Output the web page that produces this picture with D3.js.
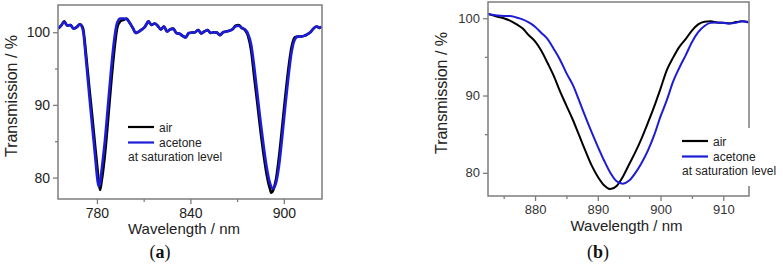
<!DOCTYPE html>
<html>
<head>
<meta charset="utf-8">
<script src="https://cdn.jsdelivr.net/npm/d3@7"></script>
<style>
  body { margin: 0; background: #fff; }
  svg { display: block; font-family: "Liberation Sans", Arial, sans-serif; }
</style>
</head>
<body>
<div id="canvas"></div>
<script>
"use strict";

// Data, panel (a): full spectrum
let wavelengthA = [755, 757, 759, 761, 763, 765, 767, 769, 771, 773, 775, 777, 779, 780, 781, 782, 783, 785, 787, 789,
    791, 793, 795, 797, 799, 801, 803, 805, 807, 809, 811, 813, 815, 817, 819, 821, 823, 825, 827, 829,
    831, 833, 835, 837, 839, 841, 843, 845, 847, 849, 851, 853, 855, 857, 859, 861, 863, 865, 867, 869,
    871, 873, 875, 877, 879, 881, 883, 885, 887, 889, 891, 892, 893, 895, 897, 899, 901, 903, 905, 907,
    909, 911, 913, 915, 917, 919, 921, 923, 924];
let airA = [100.5, 100.9, 101.5, 100.9, 101.0, 100.5, 100.7, 101.1, 100.6, 97.0, 92.6, 88.4, 84.0, 81.9, 79.8, 78.3, 79.5, 82.9, 87.6, 92.7,
    97.2, 100.6, 101.5, 101.7, 101.9, 101.3, 100.6, 99.9, 100.1, 100.4, 100.8, 101.5, 101.0, 101.2, 100.9, 100.4, 100.8, 100.1, 100.4, 100.5,
    99.9, 99.8, 99.5, 99.3, 99.9, 99.95, 100.0, 100.3, 99.85, 100.1, 100.3, 99.9, 100.0, 99.95, 99.6, 100.0, 100.1, 100.2, 100.4, 100.9,
    101.0, 100.6, 100.3, 99.5, 97.5, 93.8, 90.2, 86.5, 83.2, 80.4, 78.5, 77.9, 78.2, 79.8, 83.0, 87.1, 91.3, 95.1, 98.0, 99.3,
    99.4, 99.4, 99.5, 99.7, 100.0, 100.5, 100.8, 100.6, 100.8];
let acetoneA = [100.5, 100.9, 101.4, 100.9, 101.0, 100.5, 100.7, 101.1, 100.3, 96.2, 91.5, 87.0, 82.6, 80.3, 78.8, 79.2, 81.0, 84.8, 89.7, 94.6,
    98.8, 101.3, 101.9, 101.9, 101.8, 101.3, 100.6, 99.9, 100.1, 100.4, 100.8, 101.5, 101.0, 101.2, 100.9, 100.4, 100.8, 100.1, 100.4, 100.5,
    99.9, 99.8, 99.5, 99.3, 99.9, 99.95, 100.0, 100.3, 99.85, 100.1, 100.3, 99.9, 100.0, 99.95, 99.6, 100.0, 100.1, 100.2, 100.4, 100.8,
    100.9, 100.6, 100.4, 99.8, 98.3, 95.2, 91.5, 87.8, 84.4, 81.4, 79.3, 78.7, 78.5, 79.3, 81.8, 85.7, 90.0, 94.0, 97.3, 99.0,
    99.4, 99.4, 99.5, 99.7, 100.0, 100.5, 100.8, 100.6, 100.8];

// Data, panel (b): zoom on the second dip
let wavelengthB = [872.5, 874, 875, 876, 877, 878, 879, 880, 881, 882, 883, 884, 885, 886, 887, 888, 889, 890, 891, 892,
    893, 894, 895, 896, 897, 898, 899, 900, 901, 902, 903, 904, 905, 906, 907, 908, 909, 910, 911, 912, 913, 914];
let airB = [100.55, 100.2, 100.0, 99.7, 99.25, 98.7, 97.8, 97.0, 95.8, 94.2, 92.5, 90.5, 88.7, 86.9, 84.9, 82.9, 81.0, 79.5, 78.4, 77.9,
    78.3, 79.5, 81.1, 82.7, 84.5, 86.5, 88.6, 90.9, 93.3, 94.9, 96.3, 97.3, 98.4, 99.2, 99.55, 99.6, 99.45, 99.4, 99.35, 99.5, 99.6, 99.5];
let acetoneB = [100.55, 100.35, 100.3, 100.3, 100.1, 99.85, 99.45, 98.9, 98.1, 97.3, 96.0, 94.6, 92.9, 91.4, 89.4, 87.3, 85.3, 83.4, 81.6, 80.0,
    78.9, 78.6, 79.0, 80.0, 81.3, 82.9, 84.9, 87.3, 89.4, 91.8, 93.6, 95.2, 96.9, 98.2, 99.0, 99.4, 99.45, 99.4, 99.3, 99.4, 99.6, 99.45];

let xTicksA = [780, 840, 900];
let xMinorA = [810, 870];
let xTicksB = [880, 890, 900, 910];
let xMinorB = [875, 885, 895, 905];
let yTicks = [80, 90, 100];
let yMinor = [85, 95];
let legendLabels = ["air", "acetone", "at saturation level"];

let svgWidth = 783;
let svgHeight = 272;
let blue = "#1c1cd8";
let frameColor = "#7d7d7d";

let svg = d3.select("#canvas")
    .append("svg")
    .attr("width", svgWidth)
    .attr("height", svgHeight);

function drawPanel(p) {
    let x = d3.scaleLinear().domain(p.xDomain).range([p.left, p.right]);
    let y = d3.scaleLinear().domain(p.yDomain).range([p.bottom, p.top]);
    let g = svg.append("g");

    // minor ticks
    g.append("g")
        .attr("transform", `translate(0, ${p.bottom})`)
        .call(d3.axisBottom(x).tickValues(p.xMinor).tickSize(3).tickFormat(""))
        .call(a => a.select(".domain").remove());
    g.append("g")
        .attr("transform", `translate(${p.left}, 0)`)
        .call(d3.axisLeft(y).tickValues(yMinor).tickSize(3).tickFormat(""))
        .call(a => a.select(".domain").remove());

    // major ticks
    g.append("g")
        .attr("transform", `translate(0, ${p.bottom})`)
        .call(d3.axisBottom(x).tickValues(p.xTicks).tickSize(5).tickPadding(p.xPad))
        .call(a => a.select(".domain").remove())
        .call(a => a.selectAll("text").attr("font-size", p.tickFont).attr("fill", p.tickColor)
            .attr("font-family", "Liberation Sans, Arial, sans-serif"));
    g.append("g")
        .attr("transform", `translate(${p.left}, 0)`)
        .call(d3.axisLeft(y).tickValues(yTicks).tickSize(5).tickPadding(3))
        .call(a => a.select(".domain").remove())
        .call(a => a.selectAll("text").attr("font-size", p.tickFont).attr("fill", p.tickColor)
            .attr("font-family", "Liberation Sans, Arial, sans-serif"));
    g.selectAll(".tick line").attr("stroke", frameColor).attr("stroke-width", 1.3);

    // clip
    let clipId = "clip" + p.name;
    svg.append("clipPath").attr("id", clipId)
        .append("rect")
        .attr("x", p.left).attr("y", p.top)
        .attr("width", p.right - p.left).attr("height", p.bottom - p.top);

    let line = d3.line()
        .x(d => x(d[0]))
        .y(d => y(d[1]))
        .curve(d3.curveMonotoneX);

    let series = [
        {values: p.air, color: "#000"},
        {values: p.acetone, color: blue}
    ];
    series.forEach(s => {
        g.append("path")
            .datum(p.wavelength.map((w, i) => [w, s.values[i]]))
            .attr("clip-path", `url(#${clipId})`)
            .attr("fill", "none")
            .attr("stroke", s.color)
            .attr("stroke-width", p.lineWidth)
            .attr("stroke-linejoin", "round")
            .attr("d", line);
    });

    // frame
    g.append("rect")
        .attr("x", p.left).attr("y", p.top)
        .attr("width", p.right - p.left).attr("height", p.bottom - p.top)
        .attr("fill", "none")
        .attr("stroke", frameColor)
        .attr("stroke-width", 1.5);

    // axis labels
    g.append("text")
        .attr("x", (p.left + p.right) / 2 + p.xLabelShift)
        .attr("y", p.xLabelY)
        .attr("text-anchor", "middle")
        .attr("font-size", 15)
        .attr("fill", "#222")
        .text("Wavelength / nm");
    g.append("text")
        .attr("transform", `translate(${p.yLabelX}, ${p.yLabelY}) rotate(-90)`)
        .attr("text-anchor", "middle")
        .attr("font-size", 16)
        .attr("fill", "#222")
        .text("Transmission / %");

    // legend
    let lg = g.append("g").attr("transform", `translate(${p.legendX}, ${p.legendY})`);
    if (p.legendBg) {
        lg.append("rect")
            .attr("x", -4).attr("y", -13)
            .attr("width", 104).attr("height", 58)
            .attr("fill", "#fff");
    }
    [{c: "#000"}, {c: blue}].forEach((d, i) => {
        lg.append("line")
            .attr("x1", 0).attr("x2", 26)
            .attr("y1", i * 15.5).attr("y2", i * 15.5)
            .attr("stroke", d.c)
            .attr("stroke-width", 2.2);
        lg.append("text")
            .attr("x", 31).attr("y", i * 15.5 + 4.5)
            .attr("font-size", 12)
            .attr("fill", "#222")
            .text(legendLabels[i]);
    });
    lg.append("text")
        .attr("x", 0).attr("y", 34)
        .attr("font-size", 12)
        .attr("fill", "#222")
        .text(legendLabels[2]);

    // caption
    let cap = svg.append("text")
        .attr("x", p.capX).attr("y", 258)
        .attr("text-anchor", "middle")
        .attr("font-family", "Liberation Serif, Times New Roman, serif")
        .attr("font-size", 18)
        .attr("fill", "#111");
    cap.append("tspan").text("(");
    cap.append("tspan").attr("font-weight", "bold").text(p.name);
    cap.append("tspan").text(")");
}

drawPanel({
    name: "a",
    wavelength: wavelengthA, air: airA, acetone: acetoneA,
    xDomain: [755, 924.5], yDomain: [77.05, 103.75],
    left: 58, right: 322, top: 5, bottom: 199,
    xTicks: xTicksA, xMinor: xMinorA, xPad: 4,
    tickFont: 14, tickColor: "#222",
    lineWidth: 2.6,
    xLabelY: 234, xLabelShift: -6, yLabelX: 17, yLabelY: 96,
    legendX: 128, legendY: 127, legendBg: false,
    capX: 160
});

drawPanel({
    name: "b",
    wavelength: wavelengthB, air: airB, acetone: acetoneB,
    xDomain: [872.5, 914.1], yDomain: [77.0, 102.1],
    left: 488, right: 749, top: 2, bottom: 196,
    xTicks: xTicksB, xMinor: xMinorB, xPad: 4,
    tickFont: 13, tickColor: "#333",
    lineWidth: 2.0,
    xLabelY: 231, xLabelShift: 8, yLabelX: 447, yLabelY: 93,
    legendX: 682, legendY: 141, legendBg: true,
    capX: 598
});
</script>
</body>
</html>
